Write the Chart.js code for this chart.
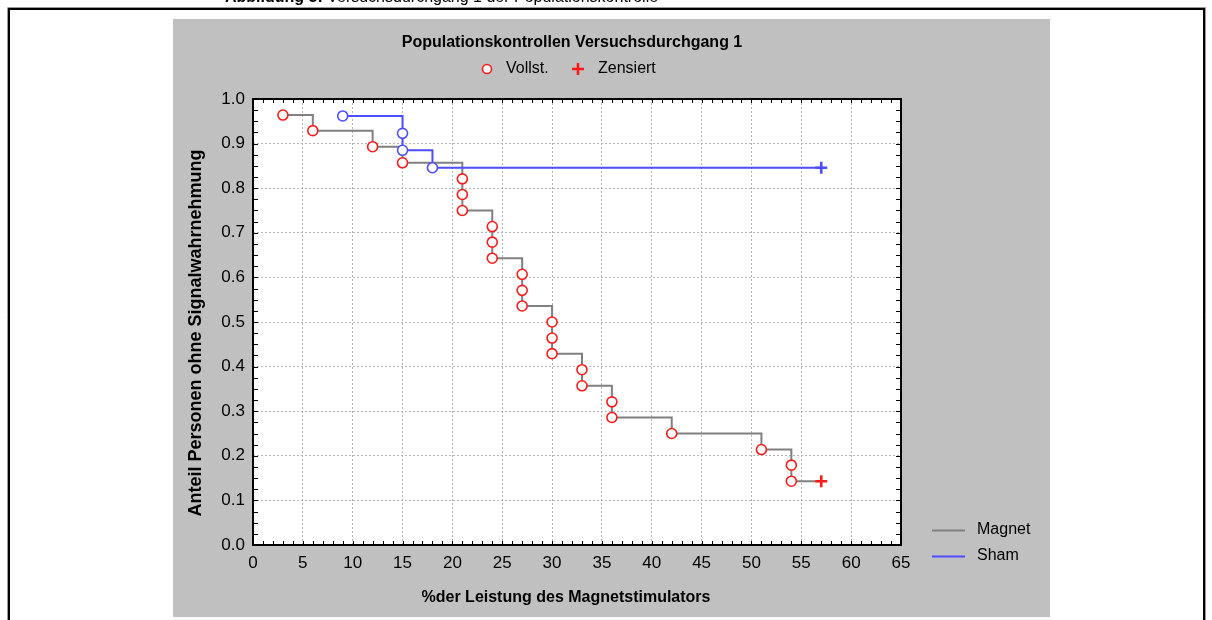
<!DOCTYPE html>
<html>
<head>
<meta charset="utf-8">
<script src="https://cdn.jsdelivr.net/npm/chart.js@4/dist/chart.umd.min.js"></script>
<style>
  html, body { margin: 0; padding: 0; background: #ffffff; overflow: hidden; }
  #wrap { position: relative; width: 1212px; height: 620px; }
  canvas { display: block; }
</style>
</head>
<body>
<div id="wrap"><canvas id="km" width="1212" height="620"></canvas></div>
<script>
// Axis ticks
const xTickValues = [0, 5, 10, 15, 20, 25, 30, 35, 40, 45, 50, 55, 60, 65];
const yTickValues = [0.0, 0.1, 0.2, 0.3, 0.4, 0.5, 0.6, 0.7, 0.8, 0.9, 1.0];

// Magnet group: stimulator output (%) and proportion without perception
const magnetTime = [3, 6, 12, 15, 21, 21, 21, 24, 24, 24, 27, 27, 27, 30, 30, 30, 33, 33, 36, 36, 42, 51, 54, 54, 57];
const magnetSurvival = [0.964, 0.929, 0.893, 0.857, 0.821, 0.786, 0.750, 0.714, 0.679, 0.643, 0.607, 0.571, 0.536,
                        0.500, 0.464, 0.429, 0.393, 0.357, 0.321, 0.286, 0.250, 0.214, 0.179, 0.143, 0.143];
const magnetCensored = [false, false, false, false, false, false, false, false, false, false, false, false, false,
                        false, false, false, false, false, false, false, false, false, false, false, true];

// Sham group
const shamTime = [9, 15, 15, 18, 57];
const shamSurvival = [0.962, 0.923, 0.885, 0.846, 0.846];
const shamCensored = [false, false, false, false, true];

// Text
const captionBold = 'Abbildung 5:';
const captionRest = ' Versuchsdurchgang 1 der Populationskontrolle';
const chartTitle = 'Populationskontrollen Versuchsdurchgang 1';
const markerLegend = ['Vollst.', 'Zensiert'];
const seriesNames = ['Magnet', 'Sham'];
const xAxisTitle = '%der Leistung des Magnetstimulators';
const yAxisTitle = 'Anteil Personen ohne Signalwahrnehmung';

const FONT = '"Liberation Sans", Arial, Helvetica, sans-serif';
const RED = '#ff1a1a';
const BLUE = '#4d4dff';
const GREY = '#808080';

function toPoints(t, s) { return t.map((x, i) => ({ x: x, y: s[i] })); }

function styleArrays(censored, color) {
  return {
    pointStyle: censored.map(c => c ? 'cross' : 'circle'),
    pointRadius: censored.map(c => c ? 6 : 5),
    pointBorderWidth: censored.map(c => c ? 2.6 : 1.6),
    pointBorderColor: censored.map(() => color),
    pointBackgroundColor: censored.map(() => '#ffffff')
  };
}

// Frame, grey panel, inward ticks, titles and legends
const decorations = {
  id: 'decorations',
  beforeDraw(chart) {
    const ctx = chart.ctx;
    ctx.save();
    ctx.fillStyle = '#ffffff';
    ctx.fillRect(0, 0, chart.width, chart.height);
    // outer figure frame
    ctx.strokeStyle = '#9a9a9a';
    ctx.lineWidth = 1;
    ctx.beginPath();
    ctx.moveTo(7.5, 640); ctx.lineTo(7.5, 7.5); ctx.lineTo(1205.5, 7.5); ctx.lineTo(1205.5, 640);
    ctx.stroke();
    ctx.strokeStyle = '#000000';
    ctx.lineWidth = 2;
    ctx.beginPath();
    ctx.moveTo(9, 640); ctx.lineTo(9, 9); ctx.lineTo(1204, 9); ctx.lineTo(1204, 640);
    ctx.stroke();
    // grey panel
    ctx.fillStyle = '#c0c0c0';
    ctx.fillRect(173, 19, 877, 598);
    // plot background
    const a = chart.chartArea;
    ctx.fillStyle = '#ffffff';
    ctx.fillRect(a.left, a.top, a.right - a.left, a.bottom - a.top);
    // caption line above the frame (cut by the page top)
    ctx.fillStyle = '#000000';
    ctx.textBaseline = 'alphabetic';
    ctx.textAlign = 'left';
    ctx.font = 'bold 16px ' + FONT;
    ctx.fillText(captionBold, 225, 1.5);
    const w = ctx.measureText(captionBold).width;
    ctx.font = '16px ' + FONT;
    ctx.fillText(captionRest, 225 + w, 1.5);
    ctx.restore();
  },
  afterDraw(chart) {
    const ctx = chart.ctx;
    const a = chart.chartArea;
    const xs = chart.scales.x, ys = chart.scales.y;
    ctx.save();
    // inward ticks on all four sides
    ctx.strokeStyle = '#000000';
    ctx.lineWidth = 1;
    ctx.beginPath();
    for (let v = xs.min; v <= xs.max + 1e-9; v += 1) {
      const px = Math.round(xs.getPixelForValue(v)) + 0.5;
      ctx.moveTo(px, a.bottom); ctx.lineTo(px, a.bottom - 4);
      ctx.moveTo(px, a.top); ctx.lineTo(px, a.top + 4);
    }
    for (let v = ys.min; v <= ys.max + 1e-9; v += 0.025) {
      const py = Math.round(ys.getPixelForValue(v)) + 0.5;
      ctx.moveTo(a.left, py); ctx.lineTo(a.left + 5, py);
      ctx.moveTo(a.right, py); ctx.lineTo(a.right - 5, py);
    }
    ctx.stroke();
    // plot frame
    ctx.lineWidth = 2;
    ctx.strokeRect(a.left, a.top, a.right - a.left, a.bottom - a.top);

    ctx.fillStyle = '#000000';
    // chart title
    ctx.textAlign = 'center';
    ctx.textBaseline = 'middle';
    ctx.font = 'bold 16px ' + FONT;
    ctx.fillText(chartTitle, 572, 43);
    // axis titles
    ctx.fillText(xAxisTitle, 566, 598);
    ctx.save();
    ctx.translate(196, 333);
    ctx.rotate(-Math.PI / 2);
    ctx.font = 'bold 18px ' + FONT;
    ctx.fillText(yAxisTitle, 0, 0);
    ctx.restore();

    // marker legend under the title
    ctx.textAlign = 'left';
    ctx.font = '16px ' + FONT;
    ctx.strokeStyle = RED;
    ctx.fillStyle = '#ffffff';
    ctx.lineWidth = 1.6;
    ctx.beginPath();
    ctx.arc(487, 69, 4.5, 0, Math.PI * 2);
    ctx.fill(); ctx.stroke();
    ctx.fillStyle = '#000000';
    ctx.fillText(markerLegend[0], 506, 69);
    ctx.lineWidth = 2.6;
    ctx.beginPath();
    ctx.moveTo(572, 69); ctx.lineTo(584, 69);
    ctx.moveTo(578, 63); ctx.lineTo(578, 75);
    ctx.stroke();
    ctx.fillText(markerLegend[1], 598, 69);

    // series legend on the right
    const lg = [[GREY, 530], [BLUE, 556]];
    lg.forEach((item, i) => {
      ctx.strokeStyle = item[0];
      ctx.lineWidth = 2;
      ctx.beginPath();
      ctx.moveTo(932, item[1] + 0.5); ctx.lineTo(965, item[1] + 0.5);
      ctx.stroke();
      ctx.fillStyle = '#000000';
      ctx.fillText(seriesNames[i], 977, item[1]);
    });
    ctx.restore();
  }
};

const chart = new Chart(document.getElementById('km'), {
  type: 'scatter',
  data: {
    datasets: [
      Object.assign({
        label: seriesNames[1],
        data: toPoints(shamTime, shamSurvival),
        showLine: true,
        stepped: 'before',
        borderColor: BLUE,
        borderWidth: 2,
        fill: false
      }, styleArrays(shamCensored, BLUE)),
      Object.assign({
        label: seriesNames[0],
        data: toPoints(magnetTime, magnetSurvival),
        showLine: true,
        stepped: 'before',
        borderColor: GREY,
        borderWidth: 2,
        fill: false
      }, styleArrays(magnetCensored, RED))
    ]
  },
  options: {
    responsive: false,
    devicePixelRatio: 1,
    animation: false,
    events: [],
    layout: { padding: { top: 99, right: 311, left: 0, bottom: 0 } },
    plugins: { legend: { display: false }, tooltip: { enabled: false }, title: { display: false } },
    scales: {
      x: {
        type: 'linear',
        min: 0, max: 65,
        afterBuildTicks(s) { s.ticks = xTickValues.map(v => ({ value: v })); },
        afterFit(s) { s.height = 75; },
        ticks: {
          color: '#000000',
          font: { family: FONT, size: 17 },
          padding: 8,
          maxRotation: 0,
          callback: v => String(v)
        },
        grid: { color: '#b4b4b4', lineWidth: 1, drawTicks: false },
        border: { display: false, dash: [2, 2] }
      },
      y: {
        type: 'linear',
        min: 0, max: 1,
        afterBuildTicks(s) { s.ticks = yTickValues.map(v => ({ value: v })); },
        afterFit(s) { s.width = 253; },
        ticks: {
          color: '#000000',
          font: { family: FONT, size: 17 },
          padding: 8,
          callback: v => Number(v).toFixed(1)
        },
        grid: { color: '#b4b4b4', lineWidth: 1, drawTicks: false },
        border: { display: false, dash: [2, 2] }
      }
    }
  },
  plugins: [decorations]
});
</script>
</body>
</html>
